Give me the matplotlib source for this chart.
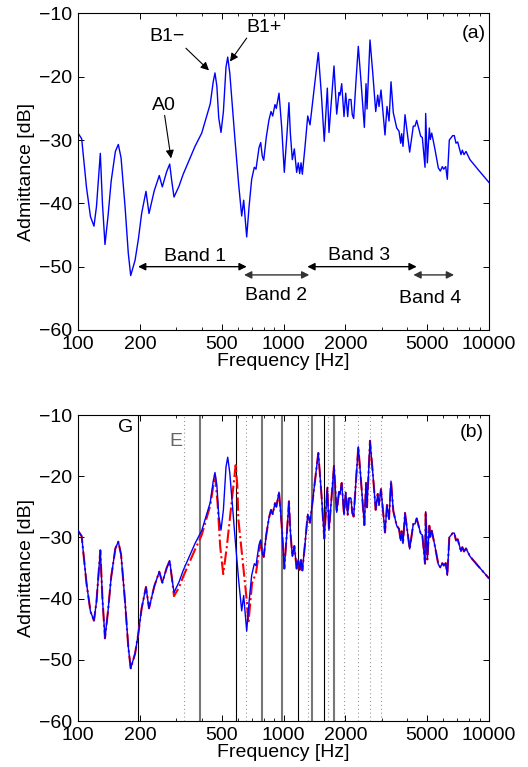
import numpy as np
import matplotlib
matplotlib.use("Agg")
import matplotlib.pyplot as plt
from matplotlib.ticker import FixedLocator, LogLocator, NullFormatter

plt.rcParams['font.family'] = ['Liberation Sans', 'DejaVu Sans']
plt.rcParams['font.size'] = 14

# ---------------- data ----------------
freq = [100, 104.2, 110, 115, 119.6, 123, 128.4, 131.5, 135.3, 140, 145, 152, 157.1, 162,
        169.4, 175.7, 180.5, 189.5, 196.6, 204, 214.2, 221.6, 235, 248.6, 257.2, 270, 279.4,
        286, 293.2, 310, 325, 371, 400, 440, 455, 464, 474, 484, 496.5, 510, 525, 535.3, 548,
        580.8, 605, 626, 640, 662, 680, 700, 721, 734.8, 760, 774.6, 788, 801, 825, 850, 869.6,
        886, 909, 922.6, 951, 980, 1009, 1040, 1063, 1080, 1104, 1129, 1159, 1180, 1199, 1217,
        1235, 1273, 1312, 1346, 1420, 1477, 1530, 1579, 1634, 1665, 1761, 1815, 1863, 1884,
        1920, 1970, 2008, 2053, 2083, 2130, 2161, 2195, 2260, 2312, 2380, 2474, 2521, 2549,
        2636, 2720, 2810, 2874, 2916, 2982, 3118, 3189, 3262, 3336, 3423, 3556, 3648, 3718,
        3760, 3815, 3902, 4112, 4282, 4364, 4448, 4652, 4737, 4883, 4919, 5011, 5124, 5182,
        5264, 5461, 5667, 5796, 5927, 6021, 6157, 6268, 6410, 6658, 6779, 6909, 7042, 7307,
        7415, 7557, 7727, 8081, 8870, 10000]
admittance_db = [-28.9, -29.8, -37.5, -42.1, -43.6, -40.5, -32.1, -40.0, -46.5, -42.0, -36.5,
        -31.8, -30.7, -32.8, -40.5, -47.9, -51.4, -49.0, -45.7, -41.6, -38.1, -41.6, -38.0,
        -35.6, -37.4, -35.0, -33.8, -36.5, -39.0, -37.3, -35.4, -31.0, -28.9, -24.3, -20.8,
        -19.4, -21.5, -26.5, -28.8, -25.5, -18.5, -16.9, -19.5, -30.0, -37.0, -42.0, -39.5,
        -45.3, -40.5, -36.2, -34.3, -34.6, -31.2, -30.4, -32.5, -33.2, -29.5, -26.8, -25.5,
        -26.2, -24.4, -25.0, -22.6, -28.0, -35.1, -29.0, -24.1, -29.0, -33.1, -31.4, -35.1,
        -33.6, -35.3, -33.6, -35.4, -31.0, -26.2, -27.6, -21.0, -16.2, -23.0, -30.2, -21.8,
        -28.8, -18.3, -25.9, -22.5, -22.9, -21.1, -26.3, -22.6, -26.3, -23.6, -23.6, -26.0,
        -26.6, -20.0, -15.2, -20.5, -28.0, -21.1, -25.1, -14.2, -19.5, -25.5, -22.9, -24.7,
        -22.1, -29.2, -24.7, -27.0, -20.8, -25.7, -28.1, -28.6, -30.5, -29.0, -31.0, -26.0,
        -31.9, -27.8, -27.8, -26.9, -29.4, -29.6, -34.3, -25.8, -33.6, -28.1, -29.9, -28.9,
        -31.5, -34.4, -34.9, -34.2, -34.6, -34.2, -36.2, -30.0, -29.3, -29.3, -30.5, -30.3,
        -32.3, -31.6, -32.3, -31.8, -33.1, -34.7, -36.7]

# modified (red) response: differs from the measured one only in this range
red_dev_freq = [293.2, 310, 325, 371, 400, 440, 464, 478, 492, 509, 530, 560, 585, 596, 603,
                637, 662, 675, 703, 734.8, 774.6]
red_dev_db = [-39.6, -38.2, -36.4, -32.0, -29.6, -24.8, -19.8, -24.5, -31.5, -36.0, -31.5,
              -24.0, -18.2, -21.5, -27.0, -34.8, -40.2, -44.0, -37.5, -35.8, -30.6]

# string harmonics
g_fund = 196.0
e_fund = 329.6
harmonics = [1, 2, 3, 4, 5, 6, 7, 8, 9]
g_black = [1, 3, 6, 8]

# band ranges (Hz) and arrow levels (dB)
bands = [("Band 1", 196, 662, -50.0, 371, -48.4),
         ("Band 2", 643, 1335, -51.3, 915, -54.6),
         ("Band 3", 1306, 4448, -50.0, 2339, -48.2),
         ("Band 4", 4286, 6761, -51.3, 5176, -55.1)]

xticks = [100, 200, 500, 1000, 2000, 5000, 10000]
yticks = [-60, -50, -40, -30, -20, -10]

# ---------------- figure ----------------
fig = plt.figure(figsize=(5.28, 7.67), dpi=100)
ax1 = fig.add_axes([78/528, 1-330/767, 411/528, 316.6/767])
ax2 = fig.add_axes([78/528, 1-721/767, 411/528, 306/767])


def style(ax):
    ax.set_xscale('log')
    ax.set_xlim(100, 10000)
    ax.set_ylim(-60, -10)
    ax.xaxis.set_major_locator(FixedLocator(xticks))
    ax.set_xticklabels([str(t) for t in xticks])
    ax.xaxis.set_minor_locator(LogLocator(base=10, subs=np.arange(2, 10)))
    ax.xaxis.set_minor_formatter(NullFormatter())
    ax.set_yticks(yticks)
    ax.set_yticklabels([f"\u2212{abs(t)}" for t in yticks])
    ax.tick_params(which='both', direction='in', top=True, right=True, labelsize=14)
    ax.tick_params(which='major', length=4, width=0.7, pad=4)
    ax.tick_params(which='minor', length=2.5, width=0.6)
    for s in ax.spines.values():
        s.set_linewidth(0.8)
    ax.set_xlabel("Frequency [Hz]", fontsize=14, labelpad=0)
    ax.set_ylabel("Admittance [dB]", fontsize=14, labelpad=3)


# ---- panel (a)
style(ax1)
ax1.plot(freq, admittance_db, color='#0000ff', lw=1.0)
ax1.text(8452, -13.1, "(a)", ha='center', va='center', fontsize=14)

arr = dict(arrowstyle='-|>', color='k', lw=0.8, mutation_scale=12, shrinkA=0, shrinkB=0)
ax1.text(272, -13.6, "B1\u2212", ha='center', va='center', fontsize=14)
ax1.annotate('', xy=(434, -19.0), xytext=(335, -15.5), arrowprops=arr)
ax1.text(804, -12.2, "B1+", ha='center', va='center', fontsize=14)
ax1.annotate('', xy=(549, -17.6), xytext=(662, -13.9), arrowprops=arr)
ax1.text(262, -24.5, "A0", ha='center', va='center', fontsize=14)
ax1.annotate('', xy=(283.6, -32.9), xytext=(264, -26.1), arrowprops=arr)

for name, f0, f1, lvl, tx, ty in bands:
    col = 'k' if lvl == -50.0 else '#333333'
    ax1.annotate('', xy=(f1, lvl), xytext=(f0, lvl),
                 arrowprops=dict(arrowstyle='<|-|>', color=col, lw=1.0,
                                 mutation_scale=11, shrinkA=0, shrinkB=0))
    ax1.text(tx, ty, name, ha='center', va='center', fontsize=14)

# ---- panel (b)
style(ax2)
for n in harmonics:
    fg = g_fund * n
    if n in g_black:
        ax2.axvline(fg, color='k', lw=0.8, zorder=1)
    else:
        ax2.axvline(fg, color='#777777', lw=1.5, zorder=1)
    ax2.axvline(e_fund * n, color='#999999', lw=0.8, ls=(0, (1, 2.5)), zorder=1)

fa = np.array(freq)
da = np.array(admittance_db)
lo = fa < red_dev_freq[0]
hi = fa > red_dev_freq[-1]
red_f = np.concatenate([fa[lo], red_dev_freq, fa[hi]])
red_d = np.concatenate([da[lo], red_dev_db, da[hi]])
ax2.plot(red_f, red_d, color='#ff0000', lw=1.5, ls='-.', zorder=2)
ax2.plot(freq, admittance_db, color='#0000ff', lw=1.0, zorder=3)

ax2.text(170.6, -12.0, "G", ha='center', va='center', fontsize=14, color='k')
ax2.text(298.6, -14.4, "E", ha='center', va='center', fontsize=14, color='#666666')
ax2.text(8236, -12.8, "(b)", ha='center', va='center', fontsize=14)

fig.savefig("out.png", dpi=100)
